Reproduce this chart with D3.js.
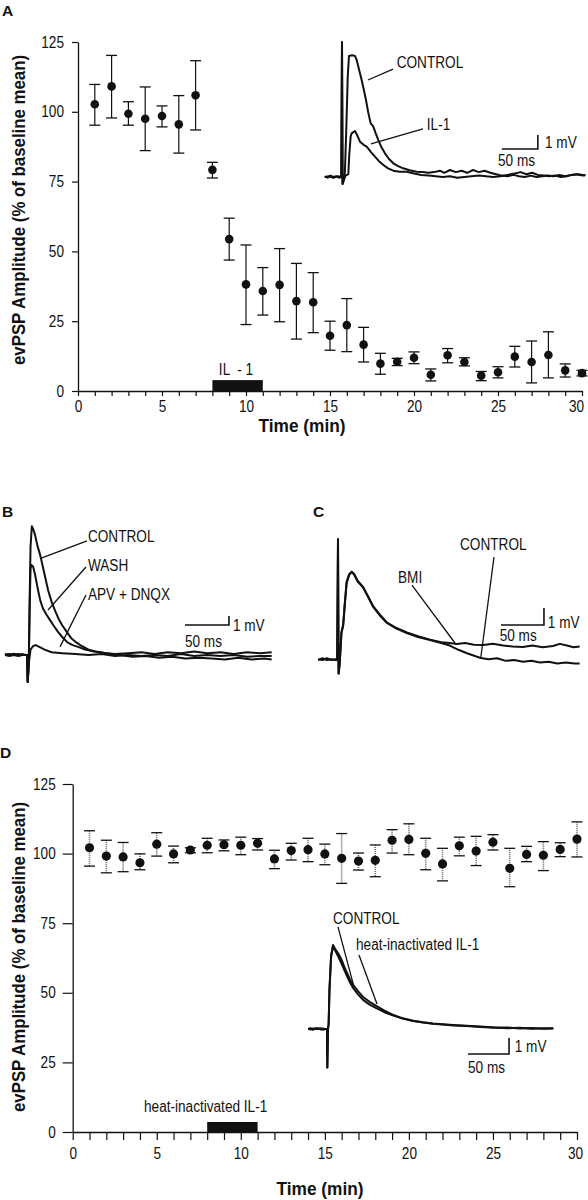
<!DOCTYPE html>
<html><head><meta charset="utf-8">
<script src="https://cdn.jsdelivr.net/npm/d3@7"></script>
<style>body{margin:0;background:#fff}</style>
</head><body>
<script>
// ---------------- DATA ----------------
const minutes = [1,2,3,4,5,6,7,8,9,10,11,12,13,14,15,16,17,18,19,20,21,22,23,24,25,26,27,28,29,30];
const timeTicks = [0,1,2,3,4,5,6,7,8,9,10,11,12,13,14,15,16,17,18,19,20,21,22,23,24,25,26,27,28,29,30];
const timeLabels = [0,5,10,15,20,25,30];
const ampTicks = [0,25,50,75,100,125];

// Panel A: IL-1
const meanA  = [102.7,109.1,99.3,97.5,98.5,95.5,105.9,79.2,54.4,38.2,35.8,38.0,32.2,31.8,19.8,23.6,16.6,9.8,10.5,11.9,5.8,12.8,10.4,5.5,6.7,12.3,10.4,12.9,7.4,6.4];
const upperA = [109.8,120.2,103.6,108.9,102.1,105.8,118.3,81.9,61.9,52.3,44.2,51.0,45.7,42.4,25.0,33.1,22.8,13.5,11.7,14.0,7.9,15.2,11.9,7.0,8.7,16.0,17.9,21.2,9.7,7.4];
const lowerA = [95.2,97.8,95.2,86.1,94.6,85.2,93.5,76.3,46.9,23.8,27.2,24.8,18.6,20.9,14.6,14.1,10.4,6.0,9.1,9.8,3.6,10.1,9.0,3.7,4.7,8.6,2.9,4.7,5.0,5.4];
const treatA = [8, 11];

// Panel D: heat-inactivated IL-1
const meanD  = [102.1,99.1,98.8,96.7,103.4,99.9,101.3,103.0,103.2,103.0,103.7,98.1,101.1,101.4,99.9,98.3,97.3,97.6,104.8,105.1,100.1,96.3,102.8,100.9,104.1,94.7,99.7,99.4,101.5,105.2];
const upperD = [108.2,104.8,104.0,99.9,107.5,102.7,102.1,105.5,104.9,105.9,105.4,101.2,103.7,105.5,103.4,107.2,100.2,103.1,108.6,110.7,105.5,101.9,105.9,106.2,106.8,101.9,102.6,104.3,103.9,111.4];
const lowerD = [95.5,93.1,93.5,94.2,99.1,96.7,100.3,100.3,101.0,99.6,101.3,94.6,97.7,97.1,96.0,89.3,94.1,91.7,100.2,99.6,94.2,90.2,99.2,95.7,101.3,88.1,97.1,93.9,98.9,98.8];
const treatD = [8, 11];

// Traces: [ms after stimulus, mV]
const traceA_control = [[-24,0.05],[-20,-0.05],[-16,0.1],[-12,0],[-8,0.05],[-4,-0.05],[-1,0],[0,9.65],[0.8,-0.5],[2,-0.3],[4,0.3],[6,3.5],[8,7.2],[9.7,8.65],[14,8.7],[18,8.65],[20.4,8.36],[24,7.6],[27.3,6.93],[30,6.3],[33.3,5.5],[36.5,4.6],[39.8,3.83],[42,3.7],[43.5,3.6],[47,3.1],[50.5,2.64],[55,2.1],[59.7,1.69],[65,1.3],[71.3,0.98],[78,0.78],[85,0.62],[94,0.48],[103.7,0.38],[112,0.35],[120,0.3],[128,0.35],[136,0.45],[142,0.3],[150,0.5],[158,0.35],[166,0.45],[174,0.3],[182,0.5],[190,0.35],[198,0.45],[206,0.3],[214,0.2],[222,0.1],[230,0.05],[238,0.15],[246,0.05],[254,0],[262,0.1],[270,0],[278,0.05],[286,0.1],[294,0.05],[302,0.15],[310,0.05],[318,0.15],[326,0.2],[334,0.1],[338,0.15]];
const traceA_il1 = [[-24,0],[-18,0.05],[-12,-0.05],[-6,0.05],[-1,0],[0,9.6],[0.8,-0.5],[2,-0.3],[5,0.1],[8.8,0.2],[10,1.5],[12,2.88],[13.4,3.12],[18,3.29],[21,3.0],[25,2.52],[30,2.3],[34.3,2.17],[40,1.8],[45.8,1.45],[51,1.15],[57.4,0.86],[64,0.62],[71.3,0.45],[80,0.38],[90,0.38],[100,0.25],[110,0.15],[120,0.1],[130,0.05],[140,0],[150,0.05],[160,-0.05],[170,0],[180,0.05],[190,0.1],[200,0.05],[210,0],[220,0.05],[230,0.15],[240,0.25],[248,0.35],[256,0.2],[264,0.3],[272,0.15],[280,0.1],[288,0.05],[296,0.1],[304,0],[312,0.05],[320,0.15],[328,0.2],[338,0.1]];

const traceB_control = [[-25,0.1],[-20,0],[-15,0.15],[-10,0],[-5,0.1],[-1,0],[0,0],[0.8,-3],[2,-1],[3,6],[4,12],[5.5,14.3],[7,14],[9,13.4],[12,12.1],[15,11.1],[18,9.8],[21,8.5],[24,7.2],[28,5.9],[32,4.9],[36,4.0],[40,3.3],[45,2.6],[50,1.9],[56,1.4],[62,1.0],[70,0.6],[80,0.35],[90,0.2],[100,0.1],[115,0.2],[130,0.3],[145,0.1],[160,0.3],[175,0.2],[190,0.4],[205,0.2],[220,0.3],[235,0.1],[250,0.3],[265,0.2],[278,0.3]];
const traceB_wash = [[-25,0],[-20,0.1],[-15,0],[-10,0.1],[-5,0],[-1,0],[0,0],[0.8,-3],[2,-1],[3,5],[4,9.6],[5,10.0],[7,9.8],[9,9.0],[11,8.0],[13,7.0],[15,6.1],[18,5.2],[22,4.5],[26,3.9],[30,3.3],[35,2.6],[40,2.0],[46,1.4],[52,1.1],[58,0.9],[66,0.6],[76,0.4],[90,0.2],[105,0.0],[120,-0.2],[135,-0.1],[150,-0.3],[165,-0.2],[180,-0.4],[195,-0.3],[210,-0.4],[225,-0.5],[240,-0.3],[255,-0.5],[270,-0.4],[278,-0.5]];
const traceB_apv = [[-25,0],[-20,-0.1],[-15,0],[-10,-0.1],[-5,0],[-1,0],[0,0],[0.8,-3],[2,-1],[4,0.6],[7,1.0],[10,1.1],[14,0.9],[20,0.6],[28,0.3],[40,0.2],[55,0.1],[70,0.0],[85,0.1],[100,-0.1],[115,0.0],[130,-0.1],[145,0.0],[160,-0.1],[175,0.1],[190,-0.1],[205,0.0],[220,-0.1],[235,0.0],[250,-0.2],[265,-0.1],[278,-0.1]];

const traceC_control = [[-23,0],[-18,0.1],[-13,0],[-8,0.05],[-3,0],[-1,0],[0,7.1],[0.7,-0.8],[2,-0.2],[4,1.6],[6,2.0],[8,3.3],[10,4.5],[13,5.0],[16,5.18],[19,5.0],[23,4.6],[29,4.29],[35,3.7],[41,3.12],[49,2.6],[57,2.18],[68,1.85],[80,1.59],[93,1.35],[107,1.18],[120,1.0],[130,0.85],[140,0.6],[150,0.4],[160,0.22],[166,0.12],[175,0.05],[185,0.1],[195,-0.05],[205,0.0],[215,-0.1],[225,-0.05],[235,-0.15],[245,-0.1],[255,-0.2],[265,-0.15],[275,-0.2],[281,-0.2]];
const traceC_bmi = [[-23,0.05],[-18,0],[-13,0.1],[-8,0],[-3,0.05],[-1,0],[0,7.1],[0.7,-0.8],[2,-0.2],[4,1.6],[6,2.1],[8,3.4],[10,4.6],[13,5.05],[16,5.2],[19,5.05],[23,4.65],[29,4.3],[35,3.75],[41,3.15],[49,2.65],[57,2.2],[68,1.88],[80,1.62],[93,1.4],[107,1.2],[120,1.05],[130,1.0],[138,0.94],[148,1.0],[158,0.9],[169,0.88],[180,0.95],[192,0.85],[203,0.8],[215,0.76],[226,0.85],[238,0.75],[250,0.82],[258,0.95],[266,0.85],[274,0.75],[281,0.8]];

const traceD_control = [[-23,0],[-20,0.05],[-17,-0.05],[-14,0.05],[-11,0],[-8,0.05],[-5,-0.05],[-2,0],[0,0],[0.4,-2.4],[1.2,0],[2,0.3],[3,2.5],[5,4.6],[7.3,5.25],[10,5.0],[14,4.7],[18,4.3],[21,3.9],[24,3.55],[28,3.1],[32,2.75],[38,2.35],[44,2.0],[52,1.7],[60,1.45],[70,1.15],[80,0.9],[92,0.68],[105,0.52],[117,0.42],[129,0.35],[141,0.3],[154,0.25],[170,0.2],[187,0.15],[205,0.1],[220,0.05],[235,0.08],[250,0.02],[265,0.05],[276,0.03]];
const traceD_heat = [[-23,0.02],[-20,-0.03],[-17,0.04],[-14,0],[-11,0.05],[-8,-0.03],[-5,0.03],[-2,0],[0,0],[0.4,-2.4],[1.2,0],[2,0.3],[3,2.4],[5,4.5],[7.3,5.15],[10,4.9],[14,4.5],[18,4.05],[21,3.7],[24,3.35],[28,2.9],[32,2.55],[38,2.15],[44,1.82],[52,1.52],[60,1.3],[70,1.05],[80,0.85],[92,0.65],[105,0.5],[117,0.4],[129,0.33],[141,0.28],[154,0.22],[170,0.18],[187,0.12],[205,0.08],[220,0.1],[235,0.03],[250,0.06],[265,0.02],[276,0.04]];

// ---------------- DRAWING ----------------
const W = 588, H = 1200;
const SANS = "'Liberation Sans',Arial,Helvetica,sans-serif";
const INK = "#111";
const NARROW_K = 0.85; // the reference uses a condensed face

const svg = d3.select("body").append("svg")
  .attr("width", W).attr("height", H)
  .style("background", "#fff");

function condense(sel, k = NARROW_K) {
  sel.each(function () {
    const len = this.getComputedTextLength();
    if (len > 0) d3.select(this).attr("textLength", len * k).attr("lengthAdjust", "spacingAndGlyphs");
  });
  return sel;
}

function label(g, t, x, y, opts = {}) {
  const s = g.append("text")
    .attr("x", x).attr("y", y)
    .attr("font-family", SANS)
    .attr("font-size", opts.size || 16)
    .attr("font-weight", opts.weight || "normal")
    .attr("text-anchor", opts.anchor || "start")
    .attr("fill", INK)
    .style("white-space", "pre")
    .text(t);
  if (opts.narrow !== false) condense(s);
  return s;
}

// Panel letters
[["A", 2, 16], ["B", 2, 517], ["C", 313, 517], ["D", 0, 758]].forEach(([t, x, y]) =>
  label(svg, t, x, y, {weight: "bold", size: 15.5, narrow: false}));

function timeCourse(cfg) {
  const g = svg.append("g");
  const x = d3.scaleLinear().domain([0, 30]).range(cfg.xr);
  const y = d3.scaleLinear().domain([0, 125]).range(cfg.yr);

  const xa = g.append("g").attr("transform", `translate(0,${cfg.yr[0]})`)
    .call(d3.axisBottom(x).tickValues(timeTicks).tickSize(cfg.xTick).tickSizeOuter(0)
      .tickPadding(cfg.xPad).tickFormat(d => timeLabels.includes(d) ? d : ""));
  const ya = g.append("g").attr("transform", `translate(${cfg.xr[0]},0)`)
    .call(d3.axisLeft(y).tickValues(ampTicks).tickSize(cfg.yTick).tickSizeOuter(0).tickPadding(cfg.yPad));
  [xa, ya].forEach(a => {
    a.select(".domain").attr("stroke", INK).attr("stroke-width", 1.3);
    a.selectAll(".tick line").attr("stroke", INK).attr("stroke-width", 1.2);
    const tx = a.selectAll(".tick text").attr("font-family", SANS).attr("font-size", 16).attr("fill", INK);
    condense(tx);
  });
  // keep the last label inside the page
  xa.selectAll(".tick").filter(d => d === 30).select("text").attr("dx", cfg.lastDx);

  // titles
  label(g, "Time (min)", cfg.xTitle[0], cfg.xTitle[1], {weight: "bold", size: 18, anchor: "middle", narrow: false})
    .attr("textLength", 87).attr("lengthAdjust", "spacingAndGlyphs");
  label(g, "evPSP Amplitude (% of baseline mean)", 0, 0, {weight: "bold", size: 18, anchor: "middle", narrow: false})
    .attr("transform", `translate(${cfg.yTitle[0]},${cfg.yTitle[1]}) rotate(-90)`)
    .attr("textLength", 310).attr("lengthAdjust", "spacingAndGlyphs");

  // treatment bar
  g.append("rect")
    .attr("x", x(cfg.treat[0])).attr("width", x(cfg.treat[1]) - x(cfg.treat[0]))
    .attr("y", y(cfg.barH)).attr("height", y(0) - y(cfg.barH))
    .attr("fill", INK);
  label(g, cfg.treatLabel, cfg.treatLabelPos[0], cfg.treatLabelPos[1], {anchor: cfg.treatAnchor});

  // error bars
  const pts = minutes.map((m, i) => ({m, v: cfg.mean[i], hi: cfg.upper[i], lo: cfg.lower[i]}));
  const eb = g.append("g");
  eb.selectAll("line.w").data(pts).join("line")
    .attr("x1", d => x(d.m)).attr("x2", d => x(d.m))
    .attr("y1", d => y(d.hi)).attr("y2", d => y(d.lo))
    .attr("stroke", cfg.whiskerColor).attr("stroke-width", cfg.whiskerWidth)
    .attr("stroke-dasharray", cfg.whiskerDash);
  ["hi", "lo"].forEach(k => {
    eb.selectAll("line.c" + k).data(pts).join("line")
      .attr("x1", d => x(d.m) - cfg.cap).attr("x2", d => x(d.m) + cfg.cap)
      .attr("y1", d => y(d[k])).attr("y2", d => y(d[k]))
      .attr("stroke", INK).attr("stroke-width", 1.3);
  });
  g.selectAll("circle").data(pts).join("circle")
    .attr("cx", d => x(d.m)).attr("cy", d => y(d.v)).attr("r", cfg.r).attr("fill", INK);
}

timeCourse({
  xr: [78, 582], yr: [391, 42], xTick: 5, xPad: 5, yTick: 6, yPad: 8, lastDx: -6,
  xTitle: [302, 432], yTitle: [25, 210],
  mean: meanA, upper: upperA, lower: lowerA, treat: treatA, barH: 3.9,
  treatLabel: "IL  - 1", treatLabelPos: [236, 375], treatAnchor: "middle",
  whiskerColor: INK, whiskerWidth: 1.2, whiskerDash: null, cap: 5.5, r: 4.3
});
timeCourse({
  xr: [72.7, 577], yr: [1132, 784], xTick: 8, xPad: 8, yTick: 10, yPad: 7, lastDx: -2,
  xTitle: [320, 1195], yTitle: [25, 957],
  mean: meanD, upper: upperD, lower: lowerD, treat: treatD, barH: 3.6,
  treatLabel: "heat-inactivated IL-1", treatLabelPos: [144, 1112], treatAnchor: "start",
  whiskerColor: "#666", whiskerWidth: 1.6, whiskerDash: "1,1", cap: 5.5, r: 4.6
});

// Trace insets
function traces(cfg) {
  const g = svg.append("g");
  const x = d3.scaleLinear().domain([0, 50]).range([cfg.x0, cfg.x0 + cfg.px50]);
  const y = d3.scaleLinear().domain([0, 1]).range([cfg.y0, cfg.y0 - cfg.px1]);
  const line = d3.line().x(d => x(d[0])).y(d => y(d[1]));
  cfg.series.forEach(s => g.append("path").datum(s).attr("d", line)
    .attr("fill", "none").attr("stroke", INK).attr("stroke-width", 2).attr("stroke-linejoin", "round"));
  // scale bar
  const [t0, v0] = cfg.bar;
  g.append("path")
    .attr("d", `M${x(t0)},${y(v0)}H${x(t0 + 50)}V${y(v0 + 1)}`)
    .attr("fill", "none").attr("stroke", INK).attr("stroke-width", 1.6);
  label(g, "1 mV", x(cfg.mvPos[0]), y(cfg.mvPos[1]));
  label(g, "50 ms", x(cfg.msPos[0]), y(cfg.msPos[1]));
  cfg.notes.forEach(n => {
    label(g, n.text, x(n.at[0]), y(n.at[1]));
    if (n.from) g.append("line")
      .attr("x1", x(n.from[0])).attr("y1", y(n.from[1]))
      .attr("x2", x(n.to[0])).attr("y2", y(n.to[1]))
      .attr("stroke", INK).attr("stroke-width", 1.3);
  });
}

traces({
  x0: 342, px50: 36, y0: 177, px1: 14,
  series: [traceA_control, traceA_il1],
  bar: [222, 2], mvPos: [282, 2.07], msPos: [216.7, 0.79],
  notes: [
    {text: "CONTROL", at: [76, 7.79], from: [36.1, 6.93], to: [70.8, 7.71]},
    {text: "IL-1", at: [117.8, 3.36], from: [40.3, 2.36], to: [112.5, 3.43]}
  ]
});
traces({
  x0: 27, px50: 44, y0: 655, px1: 9,
  series: [traceB_control, traceB_wash, traceB_apv],
  bar: [179.5, 3.33], mvPos: [234, 2.67], msPos: [179.5, 0.89],
  notes: [
    {text: "CONTROL", at: [69.3, 12.56], from: [17, 10.8], to: [68.2, 12.67]},
    {text: "WASH", at: [69.3, 9.33], from: [23.9, 5.0], to: [67, 9.78]},
    {text: "APV + DNQX", at: [69.3, 6.11], from: [37.5, 0.9], to: [67, 6.67]}
  ]
});
traces({
  x0: 338, px50: 43, y0: 660, px1: 17,
  series: [traceC_control, traceC_bmi],
  bar: [189.5, 2.06], mvPos: [244, 1.88], msPos: [188, 1.12],
  notes: [
    {text: "CONTROL", at: [141.9, 6.47], from: [181.4, 6.06], to: [166, 0.12]},
    {text: "BMI", at: [69.8, 4.53], from: [86, 4.41], to: [136, 1.0]}
  ]
});
traces({
  x0: 327, px50: 41, y0: 1029, px1: 16,
  series: [traceD_control, traceD_heat],
  bar: [172, -1.56], mvPos: [229, -1.44], msPos: [172, -2.75],
  notes: [
    {text: "CONTROL", at: [7.3, 6.56], from: [13.4, 6.38], to: [32.9, 2.63]},
    {text: "heat-inactivated IL-1", at: [35.4, 4.94], from: [39, 4.63], to: [61, 1.56]}
  ]
});
</script>
</body></html>
